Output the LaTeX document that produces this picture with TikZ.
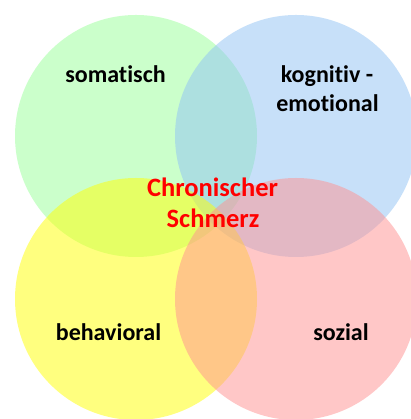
\documentclass[tikz,border=0pt]{standalone}
\usepackage{fontspec}
\setmainfont{Carlito}[Ligatures={NoCommon}]
\definecolor{cgreen}{RGB}{153,255,153}
\definecolor{cblue}{RGB}{145,195,245}
\definecolor{cyellow}{RGB}{255,255,1}
\definecolor{cred}{RGB}{255,145,145}
\definecolor{ctext}{RGB}{255,0,0}
\begin{document}
\begin{tikzpicture}[x=1pt,y=1pt,
  blob/.style={circle,minimum size=242pt,inner sep=0pt,fill opacity=0.5,draw=none},
  lab/.style={font=\fontsize{24}{29}\selectfont\bfseries,text=black,anchor=base,inner sep=0pt},
  core/.style={font=\fontsize{26.5}{31}\selectfont\bfseries,text=ctext,anchor=base,inner sep=0pt}]
\useasboundingbox (0,0) rectangle (410,419);
\fill[white] (0,0) rectangle (410,419);
\node[blob,fill=cgreen]  (green)  at (136,283) {};
\node[blob,fill=cblue]   (blue)   at (296,283) {};
\node[blob,fill=cyellow] (yellow) at (136,120) {};
\node[blob,fill=cred]    (red)    at (296,120) {};
\node[lab] (som) at (115.5,336) {somatisch};
\node[lab] (kog) at (327,336) {kognitiv -};
\node[lab] (emo) at (327.5,307) {emotional};
\node[lab] (beh) at (108.5,78) {behavioral};
\node[lab] (soz) at (341,78) {sozial};
\node[core] (chr) at (212.5,222) {Chronischer};
\node[core] (sch) at (213,191) {Schmerz};
\end{tikzpicture}
\end{document}
